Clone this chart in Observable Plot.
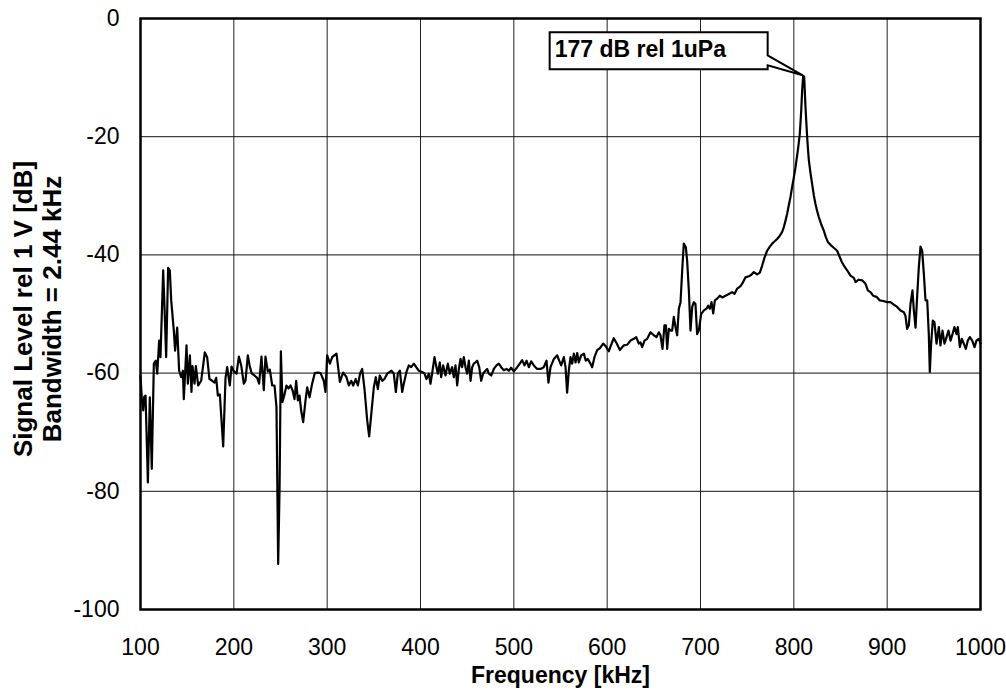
<!DOCTYPE html>
<html>
<head>
<meta charset="utf-8">
<script src="https://cdn.jsdelivr.net/npm/d3@7"></script>
<script src="https://cdn.jsdelivr.net/npm/@observablehq/plot@0.6"></script>
<style>
  html, body { margin: 0; padding: 0; background: #fff; }
  #chart svg { display: block; }
</style>
</head>
<body>
<div id="chart"></div>
<script>
// ---- data ----
const freqKHz = [
  100, 101.5, 102.9, 104, 105.4, 107.9, 110, 112.1, 114.3, 116.4, 117.9, 120, 121.4, 124.3, 125.7, 127.5, 129.6, 131.4, 132.9, 135.7,
  137.1, 139.3, 141.4, 143.6, 145.4, 146.4, 149.3, 150.7, 152.9, 154.6, 155.7, 157.9, 159.3, 161.8, 165, 168.9, 171.4, 173.9, 176.8, 179.3,
  181.1, 182.9, 185, 188.6, 191.1, 192.9, 195.7, 197.5, 200, 202.9, 205.4, 207.9, 210.7, 212.5, 215, 217.1, 219.3, 222.1, 225, 227.1,
  229.6, 232.1, 233.9, 236.4, 238.6, 241.1, 243.6, 245.7, 247.5, 249, 250.4, 252.1, 254.3, 256.4, 258.6, 260.7, 262.9, 265, 266.8, 268.6,
  270.4, 272.1, 274.3, 276.8, 278.6, 281.1, 283.9, 286.8, 290, 292.9, 296.4, 298.2, 300, 302.9, 305.4, 310, 313.6, 317.1, 320.7, 323.2,
  325.8, 327.9, 330.5, 332.9, 335.2, 337.5, 340, 342.9, 345, 347.1, 350, 352.1, 354.3, 356.4, 359, 361.4, 364.3, 367.1, 368.9, 371.4,
  373.6, 375.7, 377.9, 380.4, 382.1, 385, 387.5, 390, 392.9, 395.4, 398.2, 401.8, 404.3, 406.4, 409, 410.7, 412.9, 415, 417.1, 418.6,
  420.7, 422.1, 424.3, 426.8, 429.3, 431.4, 433.9, 435.7, 437.5, 439.3, 441.1, 442.9, 444.6, 446.4, 448.2, 450, 451.8, 453.6, 455.4, 457.1,
  458.9, 460.7, 462.9, 465, 467.1, 469.6, 471.4, 473.2, 475.7, 478.6, 481.4, 483.9, 486.4, 489.3, 492.1, 494.6, 497.1, 500, 503.6, 506.4,
  508.9, 511.4, 513.6, 516.1, 518.6, 521.4, 525, 528.6, 532.1, 535, 537.1, 539.3, 542.9, 546.4, 548.6, 550.7, 553.6, 555.4, 557.1, 558.9,
  560.7, 562.5, 564.3, 566.1, 567.9, 569.6, 572.1, 575, 577.1, 579.3, 582.1, 583.9, 586.4, 589.3, 592.1, 595.7, 598.2, 601.8, 604.3, 607.1,
  610, 613.6, 617.9, 621.4, 625, 628.6, 631.1, 633.9, 635.7, 637.5, 640, 642.9, 646.4, 650, 652.9, 655.4, 657.1, 659.3, 661.4, 662.9,
  664.3, 666.1, 667.9, 669.6, 671.4, 673.2, 675, 676.8, 678.6, 680.4, 682.1, 684.3, 685.7, 687.5, 689.3, 691.1, 692.9, 694.6, 696.4, 698.2,
  700.7, 703.6, 706.4, 708.2, 710, 711.8, 713.6, 715.4, 717.9, 720.7, 723.2, 726.8, 730.4, 733.9, 736.4, 739.3, 742.9, 745.7, 748.2, 751.8,
  754.3, 757.1, 760.7, 763.6, 766.1, 768.5, 771.4, 774.3, 776.8, 779.5, 782.1, 784.8, 787.5, 789.3, 791.1, 792.9, 794.6, 796.4, 798.2, 800,
  801.8, 803, 804.3, 805.4, 806.4, 807.2, 807.9, 808.9, 810, 811.1, 812.5, 813.4, 814.3, 815.2, 816.1, 817.9, 819.6, 821.4, 823.2, 825,
  826.8, 829.5, 832.1, 834.3, 836.4, 839.3, 842.1, 844.3, 846.4, 849.3, 851.4, 853.6, 857.1, 860.7, 864.3, 866.1, 869.6, 873.2, 876.8, 879.3,
  882.1, 885, 888.6, 892.1, 895.7, 900, 903.6, 907.1, 910.7, 914.3, 917.9, 919.6, 921.4, 923.2, 925, 927.1, 928.6, 930.4, 932.1, 933.9,
  935.7, 937.5, 939.3, 941.1, 942.9, 944.6, 945.7, 947.1, 948.9, 950.7, 952.9, 955.4, 957.1, 959.3, 961.4, 963.6, 965.7, 967.9, 970, 972.1,
  974.3, 975.7, 977.9, 980, 982.1, 984.3, 986.4, 988.6, 991.1, 993.6, 995.7, 998.2, 1000
];
const levelDb = [
  -60.5, -64.5, -66.3, -64.0, -63.8, -78.5, -64.1, -76.2, -58.4, -57.9, -60.1, -54.5, -57.3, -42.6, -48.8, -57.3, -42.2, -42.6, -47.7, -52.8,
  -56.2, -52.3, -59.6, -60.7, -59.6, -64.4, -55.3, -61.8, -57.0, -63.2, -58.8, -61.8, -58.8, -62.1, -61.3, -56.5, -57.3, -61.0, -61.3, -61.6,
  -60.8, -63.8, -63.6, -72.4, -60.8, -59.0, -62.1, -58.9, -59.7, -60.1, -57.2, -58.7, -61.8, -61.3, -57.0, -58.9, -60.1, -60.4, -60.8, -61.8,
  -57.2, -62.9, -57.2, -59.7, -59.4, -62.1, -62.1, -65.8, -92.3, -79.5, -56.3, -64.9, -63.6, -62.1, -62.6, -62.1, -62.9, -64.4, -61.3, -64.6,
  -63.8, -66.3, -68.3, -64.6, -62.4, -64.1, -61.8, -60.0, -59.9, -60.0, -61.3, -63.2, -57.0, -58.4, -57.3, -56.7, -61.5, -59.9, -60.7, -62.1,
  -61.3, -62.1, -61.0, -62.1, -60.1, -59.3, -62.7, -68.0, -70.7, -67.2, -62.4, -60.7, -62.7, -60.4, -61.3, -61.0, -60.1, -59.8, -59.6, -60.1,
  -63.2, -60.1, -59.6, -63.2, -61.8, -59.8, -58.7, -59.0, -58.4, -59.0, -59.6, -59.8, -60.1, -61.0, -60.1, -61.8, -59.6, -57.3, -59.0, -60.1,
  -58.2, -60.7, -58.7, -60.4, -58.4, -60.1, -59.0, -60.7, -58.7, -62.1, -59.3, -57.6, -59.0, -57.3, -59.0, -60.1, -57.9, -61.3, -59.0, -58.4,
  -58.2, -57.9, -59.0, -61.3, -60.1, -59.6, -59.3, -60.1, -60.4, -59.3, -58.7, -58.4, -59.0, -59.5, -59.3, -59.6, -59.1, -59.7, -59.0, -58.4,
  -57.8, -58.7, -57.9, -59.0, -58.0, -58.7, -59.3, -59.3, -59.0, -57.9, -61.6, -59.0, -57.6, -57.0, -57.9, -58.7, -57.3, -59.0, -63.3, -59.6,
  -57.3, -58.4, -56.7, -58.2, -56.6, -58.2, -57.0, -56.7, -57.9, -57.6, -58.4, -59.0, -57.3, -56.1, -55.8, -55.0, -55.4, -56.3, -55.2, -54.1,
  -54.9, -56.1, -55.3, -55.2, -54.5, -54.2, -53.9, -55.0, -54.8, -55.6, -54.5, -54.2, -53.1, -53.6, -53.9, -53.1, -53.6, -55.9, -51.9, -51.9,
  -55.9, -52.5, -52.8, -52.8, -50.5, -52.2, -53.6, -49.1, -48.0, -42.6, -38.1, -38.7, -41.0, -46.0, -52.8, -48.8, -48.0, -48.3, -53.4, -52.8,
  -50.0, -49.4, -49.1, -48.6, -49.1, -48.0, -49.9, -47.7, -47.4, -46.9, -47.2, -46.9, -46.6, -46.3, -46.6, -45.7, -45.3, -44.6, -43.8, -43.6,
  -43.4, -42.9, -43.3, -43.0, -41.8, -40.5, -39.3, -38.6, -38.1, -37.7, -37.3, -36.8, -36.1, -35.3, -34.2, -33.0, -31.6, -30.2, -28.5, -26.9,
  -25.2, -23.8, -22.3, -20.9, -19.5, -17.5, -15.6, -12.2, -9.7, -9.9, -15.0, -17.6, -20.1, -22.2, -24.0, -26.2, -28.0, -29.9, -31.4, -32.6,
  -33.6, -34.9, -35.9, -37.0, -37.8, -38.3, -38.7, -39.0, -39.3, -40.4, -41.2, -41.8, -42.6, -43.5, -43.9, -44.6, -44.2, -44.3, -44.9, -46.0,
  -46.3, -46.9, -47.1, -47.7, -47.8, -48.0, -48.0, -48.4, -48.8, -49.4, -49.7, -50.3, -52.5, -51.9, -48.3, -46.0, -49.4, -52.3, -47.1, -42.1,
  -38.6, -39.3, -43.2, -47.7, -47.7, -53.4, -59.8, -55.0, -51.1, -51.4, -55.0, -52.2, -55.3, -52.8, -55.0, -53.9, -52.8, -54.5, -53.4, -52.2,
  -53.4, -52.2, -55.6, -54.2, -55.0, -55.9, -54.5, -53.9, -54.5, -55.6, -54.5, -54.2, -55.0
];
const xTicks = [100, 200, 300, 400, 500, 600, 700, 800, 900, 1000];
const yTicks = [0, -20, -40, -60, -80, -100];
const xLabel = "Frequency [kHz]";
const yLabel = "Signal Level rel 1 V [dB]\nBandwidth = 2.44 kHz";
const peakLabel = "177 dB rel 1uPa";

// ---- build table ----
const data = freqKHz.map((f, i) => ({f, db: levelDb[i]}));
const peak = data.reduce((a, b) => (b.db > a.db ? b : a));

const FONT = "'Liberation Sans', Arial, Helvetica, sans-serif";

// callout box anchored on the peak of the series
function callout(index, scales) {
  const px = scales.x(peak.f), py = scales.y(peak.db);
  const L = px - 253, R = px - 35, T = py - 43, B = py - 6;
  const g = d3.create("svg:g");
  g.append("path")
    .attr("d", `M${L},${T}H${R}V${py - 20}L${px},${py}L${R},${py - 10}V${B}H${L}Z`)
    .attr("fill", "white")
    .attr("stroke", "black")
    .attr("stroke-width", 2)
    .attr("stroke-linejoin", "miter");
  g.append("text")
    .attr("x", L + 5)
    .attr("y", py - 18)
    .attr("text-anchor", "start")
    .attr("font-family", FONT)
    .attr("font-weight", "bold")
    .attr("font-size", 23)
    .attr("fill", "black")
    .text(peakLabel);
  return g.node();
}

const chart = Plot.plot({
  width: 1006,
  height: 693,
  marginLeft: 140,
  marginRight: 26,
  marginTop: 18,
  marginBottom: 84,
  style: {fontFamily: FONT, background: "white", color: "black"},
  x: {domain: [100, 1000]},
  y: {domain: [-100, 0]},
  marks: [
    Plot.gridX(xTicks, {stroke: "#222", strokeOpacity: 1, strokeWidth: 1}),
    Plot.gridY(yTicks, {stroke: "#111", strokeOpacity: 1, strokeWidth: 1}),
    Plot.line(data, {x: "f", y: "db", stroke: "black", strokeWidth: 2.2, strokeLinejoin: "round"}),
    Plot.frame({stroke: "black", strokeWidth: 2.5}),
    Plot.axisX(xTicks, {tickSize: 0, tickPadding: 29, fontSize: 23, label: null, tickFormat: (d) => String(d)}),
    Plot.axisY(yTicks, {tickSize: 0, tickPadding: 21, fontSize: 23, label: null, tickFormat: (d) => String(d)}),
    Plot.text([xLabel], {frameAnchor: "bottom", dy: 66, lineAnchor: "middle", text: (d) => d, fontWeight: "bold", fontSize: 23, fill: "black"}),
    Plot.text([yLabel], {frameAnchor: "left", dx: -103, dy: -5, rotate: -90, textAnchor: "middle", lineAnchor: "middle", lineHeight: 1.12, text: (d) => d, fontWeight: "bold", fontSize: 26, fill: "black"}),
    callout
  ]
});

document.getElementById("chart").appendChild(chart);
</script>
</body>
</html>
